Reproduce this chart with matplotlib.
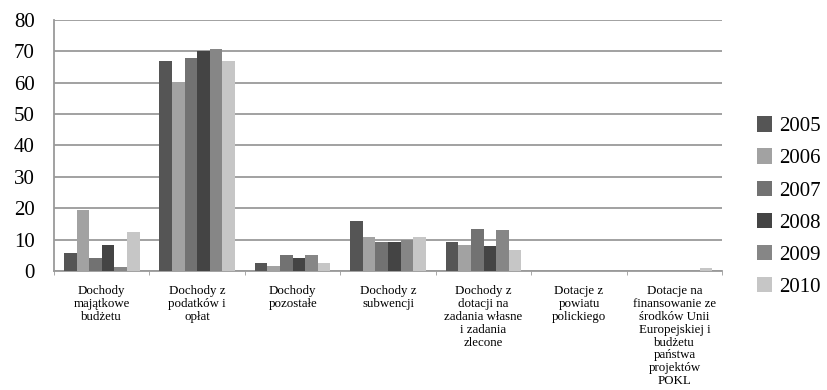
import numpy as np
import matplotlib.pyplot as plt

plt.rcParams['font.family'] = ['Liberation Serif', 'DejaVu Serif']

kategorie = ['Dochody\nmajątkowe\nbudżetu',
             'Dochody z\npodatków i\nopłat',
             'Dochody\npozostałe',
             'Dochody z\nsubwencji',
             'Dochody z\ndotacji na\nzadania własne\ni zadania\nzlecone',
             'Dotacje z\npowiatu\npolickiego',
             'Dotacje na\nfinansowanie ze\nśrodków Unii\nEuropejskiej i\nbudżetu\npaństwa\nprojektów\nPOKL']
lata = ['2005', '2006', '2007', '2008', '2009', '2010']

v2005 = [5.7, 67.0, 2.5, 15.8, 9.3, 0.0, 0.0]
v2006 = [19.4, 60.1, 1.5, 10.8, 8.4, 0.0, 0.0]
v2007 = [4.2, 68.0, 5.2, 9.3, 13.5, 0.0, 0.0]
v2008 = [8.4, 70.2, 4.3, 9.3, 8.0, 0.0, 0.0]
v2009 = [1.4, 70.8, 5.2, 10.0, 13.0, 0.0, 0.0]
v2010 = [12.5, 67.0, 2.5, 10.8, 6.7, 0.0, 1.1]
serie = [v2005, v2006, v2007, v2008, v2009, v2010]

kolory = ['#555555', '#a2a2a2', '#727272', '#444444', '#868686', '#c6c6c6']

fig = plt.figure(figsize=(8.28, 3.9), dpi=100)
ax = fig.add_axes([0.0652, 0.305, 0.807, 0.644])

x = np.arange(len(kategorie))
szer = 0.132
for i, (vals, kol, rok) in enumerate(zip(serie, kolory, lata)):
    ax.bar(x + (i - 2.5) * szer, vals, szer, color=kol, label=rok, zorder=3)

ax.set_xlim(-0.5, len(kategorie) - 0.5)
ax.set_ylim(0, 80)
ax.set_yticks(range(0, 81, 10))
ax.yaxis.grid(True, color='#9a9a9a', linewidth=1.3, zorder=0)
ax.tick_params(axis='y', length=0, labelsize=15, pad=14)

ax.set_xticks(x)
ax.set_xticklabels(kategorie, fontsize=9.3, linespacing=1.1)
ax.set_xticks(np.arange(-0.5, len(kategorie)), minor=True)
ax.tick_params(axis='x', which='major', length=0, pad=10)
ax.tick_params(axis='x', which='minor', length=3, color='#9a9a9a')

for s in ['top', 'right']:
    ax.spines[s].set_visible(False)
for s in ['left', 'bottom']:
    ax.spines[s].set_color('#9a9a9a')
    ax.spines[s].set_linewidth(1.3)

fig.legend(loc='center left', bbox_to_anchor=(0.914, 0.47), frameon=False,
           fontsize=15, handlelength=0.75, handleheight=0.75, handletextpad=0.3,
           labelspacing=0.59, borderaxespad=0, borderpad=0)

plt.savefig('out.png', dpi=100)
